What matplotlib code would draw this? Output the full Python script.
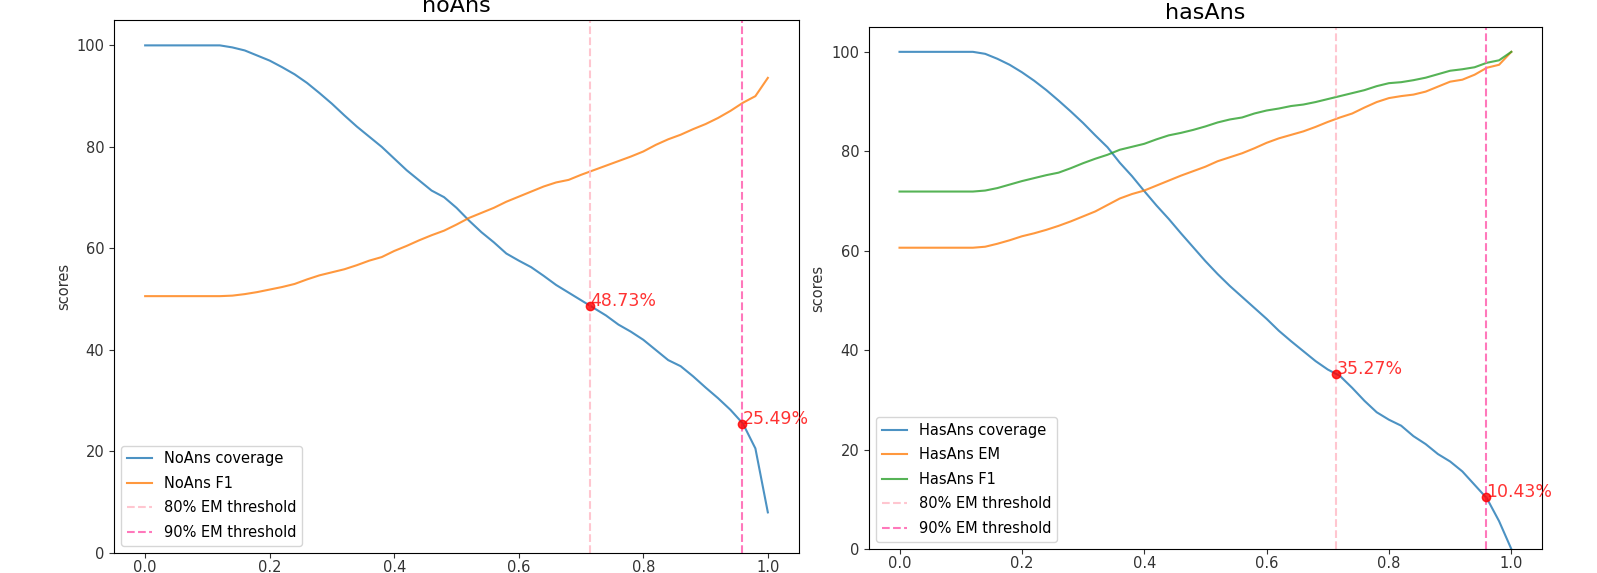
import numpy as np
import matplotlib.pyplot as plt

# threshold fractions (x) and the coverage values at them
thresh_x = [0.714, 0.959]
thresh_labels = ['80% EM threshold', '90% EM threshold']
thresh_colors = ['pink', 'hotpink']

x = np.round(np.arange(0, 1.0001, 0.02), 2)

noans_coverage = [100, 100, 100, 100, 100, 100, 100, 99.6, 99.0, 98.0,
                  97.0, 95.7, 94.3, 92.6, 90.6, 88.5, 86.2, 84.0, 82.0, 80.0,
                  77.7, 75.4, 73.4, 71.4, 70.1, 68.0, 65.5, 63.2, 61.2, 59.0,
                  57.6, 56.3, 54.6, 52.8, 51.3, 49.8, 48.3, 46.8, 45.0, 43.6,
                  42.0, 40.0, 38.0, 36.8, 34.8, 32.6, 30.5, 28.2, 25.49, 20.6,
                  8.0]
noans_f1 = [50.6, 50.6, 50.6, 50.6, 50.6, 50.6, 50.6, 50.7, 51.0, 51.4,
            51.9, 52.4, 53.0, 53.9, 54.7, 55.3, 55.9, 56.7, 57.6, 58.3,
            59.5, 60.5, 61.6, 62.6, 63.5, 64.7, 66.0, 67.0, 68.0, 69.2,
            70.2, 71.2, 72.2, 73.0, 73.5, 74.5, 75.4, 76.3, 77.2, 78.1,
            79.1, 80.4, 81.5, 82.4, 83.5, 84.5, 85.7, 87.1, 88.7, 90.0,
            93.6]
noans_marks = [48.73, 25.49]

hasans_coverage = [100, 100, 100, 100, 100, 100, 100, 99.6, 98.6, 97.4,
                   95.9, 94.2, 92.3, 90.2, 88.0, 85.7, 83.2, 80.8, 77.7, 75.0,
                   72.0, 69.1, 66.4, 63.5, 60.7, 57.9, 55.3, 52.9, 50.7, 48.5,
                   46.3, 43.9, 41.8, 39.8, 37.8, 36.1, 34.8, 32.4, 29.8, 27.5,
                   26.0, 24.8, 22.7, 21.1, 19.1, 17.6, 15.6, 12.9, 10.2, 5.6,
                   0.0]
hasans_em = [60.6, 60.6, 60.6, 60.6, 60.6, 60.6, 60.6, 60.8, 61.4, 62.1,
             62.9, 63.5, 64.2, 65.0, 65.9, 66.9, 67.9, 69.2, 70.5, 71.4,
             72.1, 73.1, 74.1, 75.1, 76.0, 76.9, 78.0, 78.8, 79.6, 80.6,
             81.7, 82.6, 83.3, 84.0, 84.9, 85.9, 86.8, 87.6, 88.8, 89.9,
             90.7, 91.1, 91.4, 92.0, 93.0, 94.0, 94.4, 95.4, 96.8, 97.4,
             100.0]
hasans_f1 = [71.9, 71.9, 71.9, 71.9, 71.9, 71.9, 71.9, 72.1, 72.6, 73.3,
             74.0, 74.6, 75.2, 75.7, 76.6, 77.6, 78.5, 79.3, 80.3, 80.9,
             81.5, 82.4, 83.2, 83.7, 84.3, 85.0, 85.8, 86.4, 86.8, 87.6,
             88.2, 88.6, 89.1, 89.4, 89.9, 90.5, 91.1, 91.7, 92.3, 93.1,
             93.7, 93.9, 94.3, 94.8, 95.5, 96.2, 96.5, 96.9, 97.8, 98.3,
             100.0]
hasans_marks = [35.27, 10.43]


def draw_panel(ax, title, series, marks):
    for label, values in series:
        ax.plot(x, values, label=label, alpha=0.8)
    for tx, lab, col in zip(thresh_x, thresh_labels, thresh_colors):
        ax.axvline(tx, linestyle='--', color=col, label=lab, alpha=0.9)
    for tx, m in zip(thresh_x, marks):
        ax.plot(tx, m, 'ro', alpha=0.8)
        ax.text(tx, m, '%.2f%%' % m, color='red', alpha=0.8, fontsize=12.5)
    ax.set_ylim(0, 105)
    ax.set_xlim(-0.05, 1.05)
    ax.tick_params(labelsize=10.5, colors='#333333')
    ax.tick_params(axis='x', pad=1.2)
    ax.set_ylabel('scores', fontsize=10.5, color='#333333')
    ax.set_title(title, fontsize=16)
    ax.legend(loc='lower left', fontsize=10.5, labelspacing=0.65,
              handlelength=1.7)


fig = plt.figure(figsize=(15.97, 5.73), dpi=100)
ax1 = fig.add_axes([0.0714, 0.0349, 0.4289, 0.9302])
ax2 = fig.add_axes([0.5441, 0.0419, 0.4214, 0.911])

draw_panel(ax1, 'noAns',
           [('NoAns coverage', noans_coverage), ('NoAns F1', noans_f1)],
           noans_marks)
draw_panel(ax2, 'hasAns',
           [('HasAns coverage', hasans_coverage), ('HasAns EM', hasans_em),
            ('HasAns F1', hasans_f1)],
           hasans_marks)

fig.savefig('out.png', dpi=100)
